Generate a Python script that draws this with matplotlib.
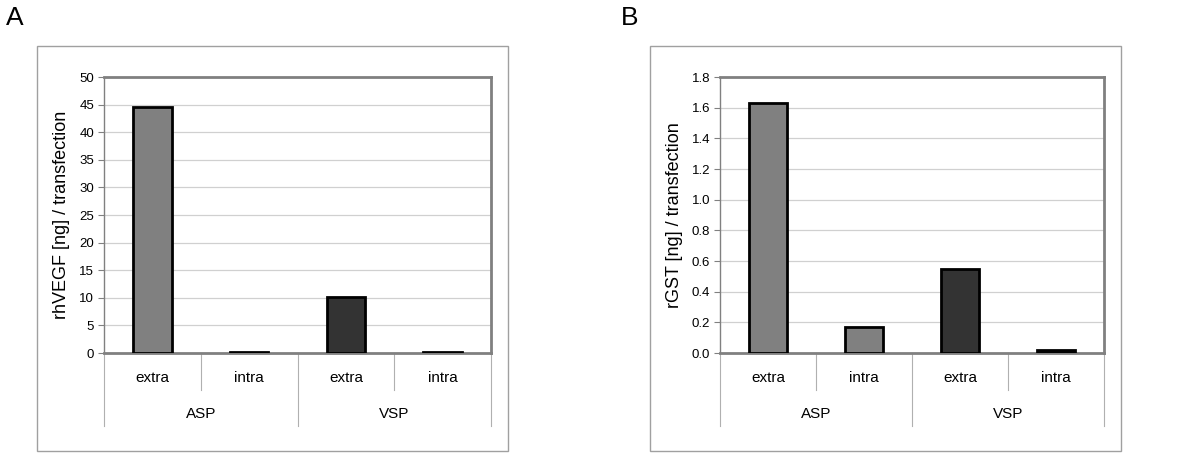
import matplotlib
matplotlib.use("Agg")
import matplotlib.pyplot as plt
from matplotlib.patches import Rectangle

plt.rcParams['font.family'] = ['Liberation Sans', 'DejaVu Sans']

groups = ["ASP", "VSP"]
subcats = ["extra", "intra"]
values_A = [44.5, 0.2, 10.2, 0.15]
values_B = [1.63, 0.17, 0.55, 0.02]
colors_A = ["#808080", "#808080", "#333333", "#333333"]
colors_B = ["#808080", "#808080", "#333333", "#111111"]
ylabel_A = "rhVEGF [ng] / transfection"
ylabel_B = "rGST [ng] / transfection"
yticks_A = [0, 5, 10, 15, 20, 25, 30, 35, 40, 45, 50]
yticks_B = [0.0, 0.2, 0.4, 0.6, 0.8, 1.0, 1.2, 1.4, 1.6, 1.8]
ytl_B = ["%.1f" % v for v in yticks_B]
ytl_A = [str(v) for v in yticks_A]

W, H = 1200, 459
fig = plt.figure(figsize=(12, 4.59), dpi=100)

def panel(letter, letter_x, frame, area, vals, cols, yticks, ytl, ylabel, ylab_x):
    fx0, fy0, fx1, fy1 = frame
    fig.patches.append(Rectangle((fx0 / W, 1 - fy1 / H), (fx1 - fx0) / W, (fy1 - fy0) / H,
                                 transform=fig.transFigure, fill=False,
                                 edgecolor="#a0a0a0", linewidth=1.0))
    fig.text(letter_x / W, 1 - 18 / H, letter, fontsize=19, ha="center", va="center")
    x0, y0, x1, y1 = area
    ax = fig.add_axes([x0 / W, 1 - y1 / H, (x1 - x0) / W, (y1 - y0) / H])
    n = len(vals)
    xs = [i + 0.5 for i in range(n)]
    ax.bar(xs, vals, width=0.4, color=cols, edgecolor="black", linewidth=2, zorder=3)
    ax.set_xlim(0, n)
    ax.set_ylim(yticks[0], yticks[-1])
    ax.set_yticks(yticks)
    ax.set_yticklabels(ytl, fontsize=9.5)
    ax.tick_params(axis="y", length=4, width=0.8, color="#808080", pad=3)
    ax.set_xticks([])
    ax.grid(axis="y", color="#d0d0d0", linewidth=0.9, zorder=0)
    for s in ax.spines.values():
        s.set_color("#808080")
        s.set_linewidth(2)
    ax.spines["left"].set_linewidth(1)
    ax.set_ylabel(ylabel, fontsize=13)
    ax.yaxis.set_label_coords((ylab_x - x0) / (x1 - x0), 0.5)
    ph = y1 - y0
    def ay(py):
        return (y1 - py) / ph
    for i in range(n + 1):
        bottom = 426 if i % 2 == 0 else 390
        ax.plot([i, i], [0, ay(bottom)], color="#b0b0b0", linewidth=0.8,
                transform=ax.get_xaxis_transform(), clip_on=False)
    for i in range(n):
        ax.text(xs[i], ay(378), subcats[i % 2], fontsize=11, ha="center", va="center",
                transform=ax.get_xaxis_transform())
    for g, name in enumerate(groups):
        ax.text(2 * g + 1, ay(414), name, fontsize=11, ha="center", va="center",
                transform=ax.get_xaxis_transform())
    return ax

panel("A", 15, (37, 46, 508, 451), (104, 77, 491, 353), values_A, colors_A,
      yticks_A, ytl_A, ylabel_A, 70)
panel("B", 630, (650, 46, 1121, 451), (720, 77, 1104, 353), values_B, colors_B,
      yticks_B, ytl_B, ylabel_B, 683)

fig.savefig("out.png", dpi=100)
